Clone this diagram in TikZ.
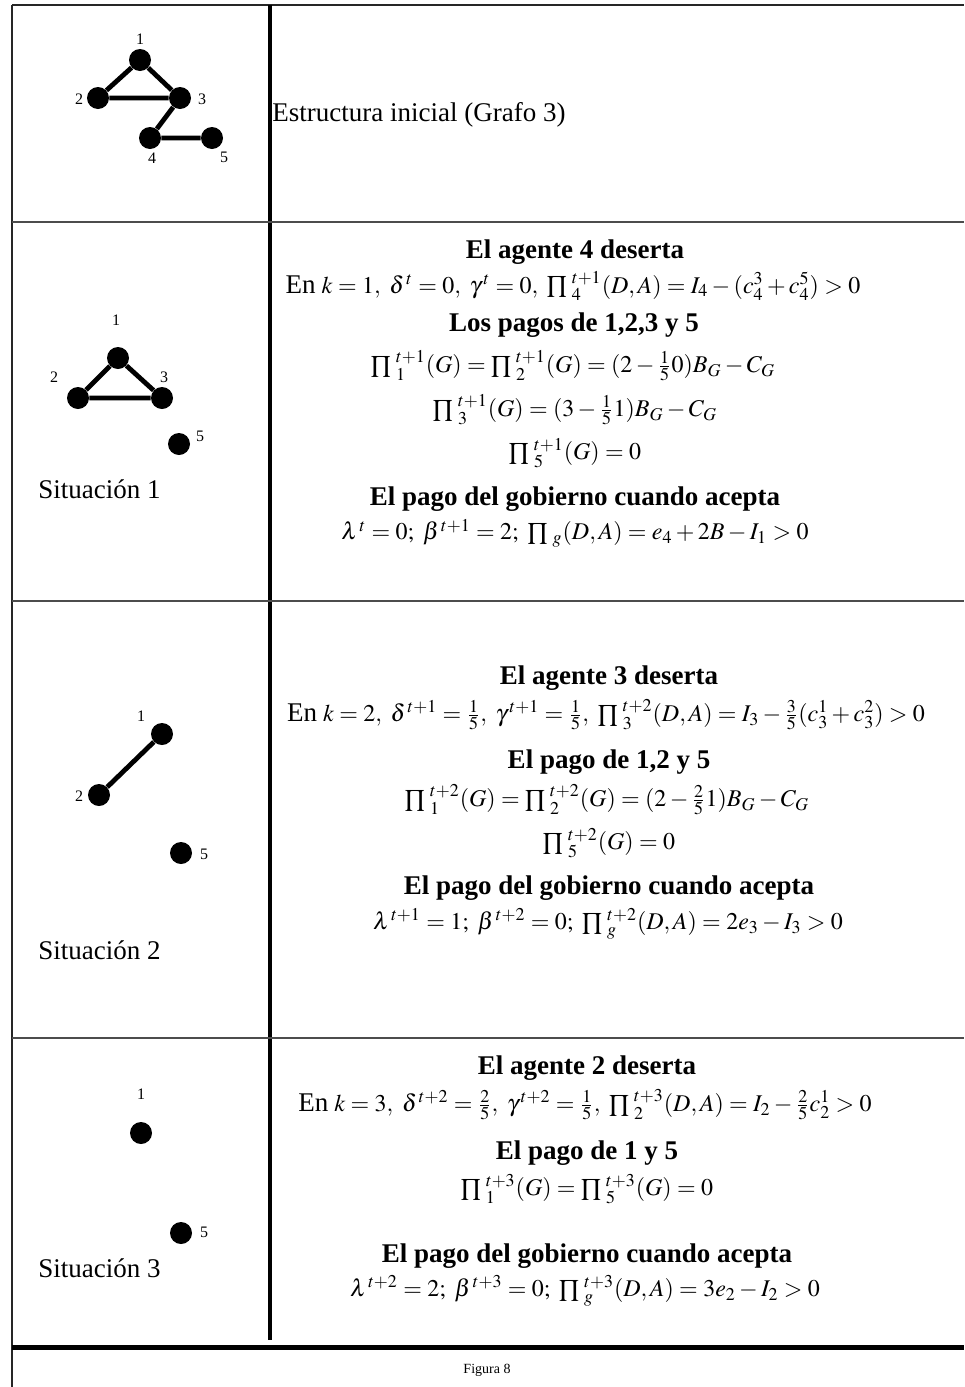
\documentclass[tikz,border=0pt]{standalone}
\usepackage{amsmath}
\usepackage{mathptmx}
\usepackage[no-math]{fontspec}
\setmainfont{Liberation Serif}
\begin{document}
\begin{tikzpicture}[x=0.5pt,y=-0.5pt,
  frame/.style={line width=1pt,draw=black!85},
  thin/.style={line width=1pt,draw=black!70},
  dot/.style={circle,fill=black,inner sep=0pt,minimum size=11pt},
  edge/.style={line width=2.4pt},
  lab/.style={font=\fontsize{8}{9}\selectfont,inner sep=0pt},
  head/.style={font=\fontsize{13.5}{15}\selectfont\bfseries,inner sep=0pt},
  eq/.style={font=\fontsize{12}{14}\selectfont,inner sep=0pt},
  sit/.style={font=\fontsize{13.5}{15}\selectfont,inner sep=0pt,anchor=west}]
\newcommand{\En}{{\fontsize{13.5}{15}\selectfont En}}
\useasboundingbox (0,0) rectangle (964,1387);
% frame lines
\draw[frame] (12,5) -- (964,5);
\draw[frame] (12,5) -- (12,1387);
\draw[line width=2pt] (270,5) -- (270,1340);
\draw[thin] (12,222) -- (964,222);
\draw[thin] (12,601) -- (964,601);
\draw[thin] (12,1038) -- (964,1038);
\draw[line width=2.5pt] (12,1347) -- (964,1347);

% initial graph
\node[dot] (a1) at (140,60) {};
\node[dot] (a2) at (98,98) {};
\node[dot] (a3) at (180,98) {};
\node[dot] (a4) at (150,138) {};
\node[dot] (a5) at (212,138) {};
\draw[edge] (a1) -- (a2) (a1) -- (a3) (a2) -- (a3) (a3) -- (a4) (a4) -- (a5);
\node[lab] (la1) at (140,39) {1};
\node[lab] (la2) at (79,99) {2};
\node[lab] (la3) at (202,99) {3};
\node[lab] (la4) at (152,158) {4};
\node[lab] (la5) at (224,157) {5};
\node[sit] (t0) at (272,115) {Estructura inicial (Grafo 3)};

% situacion 1
\node[dot] (b1) at (118,358) {};
\node[dot] (b2) at (78,398) {};
\node[dot] (b3) at (162,398) {};
\node[dot] (b5) at (179,444) {};
\draw[edge] (b1) -- (b2) (b1) -- (b3) (b2) -- (b3);
\node[lab] (lb1) at (116,320) {1};
\node[lab] (lb2) at (54,377) {2};
\node[lab] (lb3) at (164,377) {3};
\node[lab] (lb5) at (200,436) {5};
\node[sit] (s1) at (38,489) {Situación 1};

\node[head] (h11) at (575,252) {El agente 4 deserta};
\node[eq] (e11) at (573,286) {\En\ $k = 1,\ \delta^{\,t} = 0,\ \gamma^{\,t} = 0,\ \prod\,{}^{t+1}_{4}(D,A) = I_4 - (c_4^3 + c_4^5) > 0$};
\node[head] (h12) at (574,325) {Los pagos de 1,2,3 y 5};
\node[eq] (e12) at (573,366) {$\prod\,{}^{t+1}_{1}(G) = \prod\,{}^{t+1}_{2}(G) = (2 - \tfrac{1}{5}0)B_G - C_G$};
\node[eq] (e13) at (575,410) {$\prod\,{}^{t+1}_{3}(G) = (3 - \tfrac{1}{5}1)B_G - C_G$};
\node[eq] (e14) at (575,453) {$\prod\,{}^{t+1}_{5}(G) = 0$};
\node[head] (h13) at (575,499) {El pago del gobierno cuando acepta};
\node[eq] (e15) at (575,533) {$\lambda^{\,t} = 0;\ \beta^{\,t+1} = 2;\ \prod\,{}_{g}(D,A) = e_4 + 2B - I_1 > 0$};

% situacion 2
\node[dot] (c1) at (162,734) {};
\node[dot] (c2) at (99,795) {};
\node[dot] (c5) at (181,853) {};
\draw[edge] (c1) -- (c2);
\node[lab] (lc1) at (141,716) {1};
\node[lab] (lc2) at (79,796) {2};
\node[lab] (lc5) at (204,854) {5};
\node[sit] (s2) at (38,950) {Situación 2};

\node[head] (h21) at (609,678) {El agente 3 deserta};
\node[eq] (e21) at (606,715) {\En\ $k = 2,\ \delta^{\,t+1} = \tfrac{1}{5},\ \gamma^{\,t+1} = \tfrac{1}{5},\ \prod\,{}^{t+2}_{3}(D,A) = I_3 - \tfrac{3}{5}(c_3^1 + c_3^2) > 0$};
\node[head] (h22) at (609,762) {El pago de 1,2 y 5};
\node[eq] (e22) at (607,800) {$\prod\,{}^{t+2}_{1}(G) = \prod\,{}^{t+2}_{2}(G) = (2 - \tfrac{2}{5}1)B_G - C_G$};
\node[eq] (e23) at (609,843) {$\prod\,{}^{t+2}_{5}(G) = 0$};
\node[head] (h23) at (609,888) {El pago del gobierno cuando acepta};
\node[eq] (e24) at (608,924) {$\lambda^{\,t+1} = 1;\ \beta^{\,t+2} = 0;\ \prod\,{}^{t+2}_{g}(D,A) = 2e_3 - I_3 > 0$};

% situacion 3
\node[dot] (d1) at (141,1133) {};
\node[dot] (d5) at (181,1233) {};
\node[lab] (ld1) at (141,1094) {1};
\node[lab] (ld5) at (204,1232) {5};
\node[sit] (s3) at (38,1268) {Situación 3};

\node[head] (h31) at (587,1068) {El agente 2 deserta};
\node[eq] (e31) at (585,1105) {\En\ $k = 3,\ \delta^{\,t+2} = \tfrac{2}{5},\ \gamma^{\,t+2} = \tfrac{1}{5},\ \prod\,{}^{t+3}_{2}(D,A) = I_2 - \tfrac{2}{5}c_2^1 > 0$};
\node[head] (h32) at (587,1153) {El pago de 1 y 5};
\node[eq] (e32) at (587,1189) {$\prod\,{}^{t+3}_{1}(G) = \prod\,{}^{t+3}_{5}(G) = 0$};
\node[head] (h33) at (587,1256) {El pago del gobierno cuando acepta};
\node[eq] (e33) at (585,1291) {$\lambda^{\,t+2} = 2;\ \beta^{\,t+3} = 0;\ \prod\,{}^{t+3}_{g}(D,A) = 3e_2 - I_2 > 0$};

\node[font=\fontsize{7}{8}\selectfont,inner sep=0pt] (fig) at (487,1370) {Figura 8};
\end{tikzpicture}
\end{document}
